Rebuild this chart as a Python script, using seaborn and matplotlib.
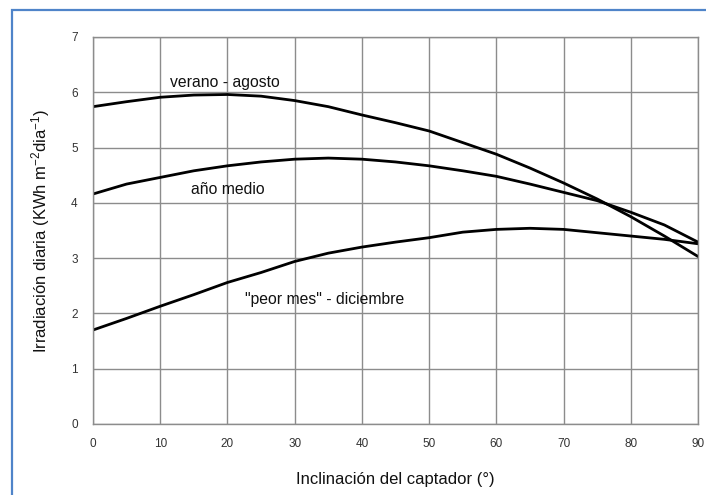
import matplotlib
matplotlib.use("Agg")
import matplotlib.pyplot as plt
import seaborn as sns
import pandas as pd
from matplotlib.patches import Rectangle

inclinacion = [0, 5, 10, 15, 20, 25, 30, 35, 40, 45, 50, 55, 60, 65, 70, 75, 80, 85, 90]
verano_agosto = [5.74, 5.83, 5.91, 5.95, 5.96, 5.93, 5.85, 5.74, 5.59, 5.45, 5.30, 5.09,
                 4.88, 4.63, 4.36, 4.07, 3.75, 3.40, 3.03]
anio_medio = [4.16, 4.34, 4.46, 4.58, 4.67, 4.74, 4.79, 4.81, 4.79, 4.74, 4.67, 4.58,
              4.48, 4.34, 4.19, 4.04, 3.83, 3.60, 3.29]
peor_mes = [1.70, 1.91, 2.13, 2.34, 2.56, 2.74, 2.94, 3.09, 3.20, 3.29, 3.37, 3.47,
            3.52, 3.54, 3.52, 3.46, 3.40, 3.34, 3.26]

labels = ["verano - agosto", "año medio", '"peor mes" - diciembre']
label_pos = [(19.6, 6.17), (20.1, 4.24), (34.5, 2.26)]

x_ticks = [0, 10, 20, 30, 40, 50, 60, 70, 80, 90]
y_ticks = [0, 1, 2, 3, 4, 5, 6, 7]

sns.set_theme(style="white")
plt.rcParams['font.family'] = ['Liberation Sans', 'DejaVu Sans']
plt.rcParams['mathtext.fontset'] = 'custom'
plt.rcParams['mathtext.rm'] = 'Liberation Sans'
plt.rcParams['mathtext.it'] = 'Liberation Sans'
plt.rcParams['mathtext.default'] = 'regular'

df = pd.DataFrame({
    "x": inclinacion * 3,
    "y": verano_agosto + anio_medio + peor_mes,
    "serie": [labels[0]] * len(inclinacion) + [labels[1]] * len(inclinacion) + [labels[2]] * len(inclinacion),
})

fig = plt.figure(figsize=(7.06, 4.95), dpi=100)
ax = fig.add_axes([93 / 706, 1 - 424 / 495, (698 - 93) / 706, (424 - 37) / 495])

sns.lineplot(data=df, x="x", y="y", units="serie", estimator=None, color="black",
             linewidth=2.0, ax=ax, legend=False)

ax.set_xlim(0, 90)
ax.set_ylim(0, 7)
ax.set_xticks(x_ticks)
ax.set_yticks(y_ticks)
ax.grid(True, color="#8c8c8c", linewidth=1.0)
ax.set_axisbelow(True)
for s in ax.spines.values():
    s.set_color("#8c8c8c")
    s.set_linewidth(1.0)
ax.tick_params(axis="both", length=0, labelsize=8.5, labelcolor="#333333")
ax.tick_params(axis="x", pad=10)
ax.tick_params(axis="y", pad=11)

ax.set_xlabel("Inclinación del captador (°)", fontsize=12, color="#111111", labelpad=16)
ax.set_ylabel("Irradiación diaria (KWh m$^{-2}$dia$^{-1}$)", fontsize=12, color="#111111", labelpad=14)

for txt, (tx, ty) in zip(labels, label_pos):
    ax.text(tx, ty, txt, ha="center", va="center", fontsize=11.3, color="#111111")

fig.patches.append(Rectangle((12 / 706, -0.1), 1.2, 1 - 10 / 495 + 0.1,
                             transform=fig.transFigure, fill=False,
                             edgecolor="#4f84c9", linewidth=1.6))

fig.savefig("out.png", dpi=100, facecolor="white")
